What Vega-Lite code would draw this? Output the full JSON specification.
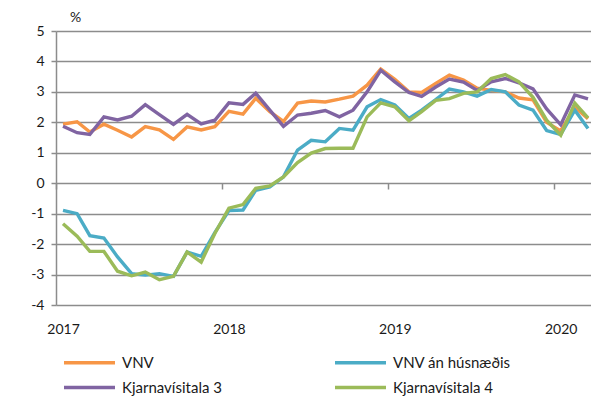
{
 "$schema": "https://vega.github.io/schema/vega-lite/v6.json",
 "width": 535,
 "height": 274,
 "autosize": {"type": "none"},
 "padding": {"left": 56, "top": 31, "right": 0, "bottom": 101},
 "background": "#ffffff",
 "config": {"font": "Lato", "view": {"stroke": null}},
 "data": {"values": [
  {"month":"2017-01-01","series":"VNV","value":1.94},{"month":"2017-02-01","series":"VNV","value":2.02},{"month":"2017-03-01","series":"VNV","value":1.68},{"month":"2017-04-01","series":"VNV","value":1.94},{"month":"2017-05-01","series":"VNV","value":1.74},{"month":"2017-06-01","series":"VNV","value":1.52},{"month":"2017-07-01","series":"VNV","value":1.86},{"month":"2017-08-01","series":"VNV","value":1.75},{"month":"2017-09-01","series":"VNV","value":1.44},{"month":"2017-10-01","series":"VNV","value":1.85},{"month":"2017-11-01","series":"VNV","value":1.75},{"month":"2017-12-01","series":"VNV","value":1.86},
  {"month":"2018-01-01","series":"VNV","value":2.36},{"month":"2018-02-01","series":"VNV","value":2.27},{"month":"2018-03-01","series":"VNV","value":2.79},{"month":"2018-04-01","series":"VNV","value":2.35},{"month":"2018-05-01","series":"VNV","value":2.03},{"month":"2018-06-01","series":"VNV","value":2.63},{"month":"2018-07-01","series":"VNV","value":2.70},{"month":"2018-08-01","series":"VNV","value":2.67},{"month":"2018-09-01","series":"VNV","value":2.76},{"month":"2018-10-01","series":"VNV","value":2.86},{"month":"2018-11-01","series":"VNV","value":3.22},{"month":"2018-12-01","series":"VNV","value":3.75},
  {"month":"2019-01-01","series":"VNV","value":3.41},{"month":"2019-02-01","series":"VNV","value":3.00},{"month":"2019-03-01","series":"VNV","value":2.98},{"month":"2019-04-01","series":"VNV","value":3.28},{"month":"2019-05-01","series":"VNV","value":3.55},{"month":"2019-06-01","series":"VNV","value":3.39},{"month":"2019-07-01","series":"VNV","value":3.12},{"month":"2019-08-01","series":"VNV","value":3.05},{"month":"2019-09-01","series":"VNV","value":3.00},{"month":"2019-10-01","series":"VNV","value":2.80},{"month":"2019-11-01","series":"VNV","value":2.74},{"month":"2019-12-01","series":"VNV","value":2.00},
  {"month":"2020-01-01","series":"VNV","value":1.72},{"month":"2020-02-01","series":"VNV","value":2.50},{"month":"2020-03-01","series":"VNV","value":2.12},

  {"month":"2017-01-01","series":"VNV án húsnæðis","value":-0.89},{"month":"2017-02-01","series":"VNV án húsnæðis","value":-1.0},{"month":"2017-03-01","series":"VNV án húsnæðis","value":-1.72},{"month":"2017-04-01","series":"VNV án húsnæðis","value":-1.80},{"month":"2017-05-01","series":"VNV án húsnæðis","value":-2.42},{"month":"2017-06-01","series":"VNV án húsnæðis","value":-2.97},{"month":"2017-07-01","series":"VNV án húsnæðis","value":-3.02},{"month":"2017-08-01","series":"VNV án húsnæðis","value":-2.97},{"month":"2017-09-01","series":"VNV án húsnæðis","value":-3.06},{"month":"2017-10-01","series":"VNV án húsnæðis","value":-2.26},{"month":"2017-11-01","series":"VNV án húsnæðis","value":-2.40},{"month":"2017-12-01","series":"VNV án húsnæðis","value":-1.62},
  {"month":"2018-01-01","series":"VNV án húsnæðis","value":-0.90},{"month":"2018-02-01","series":"VNV án húsnæðis","value":-0.88},{"month":"2018-03-01","series":"VNV án húsnæðis","value":-0.23},{"month":"2018-04-01","series":"VNV án húsnæðis","value":-0.12},{"month":"2018-05-01","series":"VNV án húsnæðis","value":0.21},{"month":"2018-06-01","series":"VNV án húsnæðis","value":1.09},{"month":"2018-07-01","series":"VNV án húsnæðis","value":1.41},{"month":"2018-08-01","series":"VNV án húsnæðis","value":1.36},{"month":"2018-09-01","series":"VNV án húsnæðis","value":1.80},{"month":"2018-10-01","series":"VNV án húsnæðis","value":1.74},{"month":"2018-11-01","series":"VNV án húsnæðis","value":2.51},{"month":"2018-12-01","series":"VNV án húsnæðis","value":2.75},
  {"month":"2019-01-01","series":"VNV án húsnæðis","value":2.57},{"month":"2019-02-01","series":"VNV án húsnæðis","value":2.13},{"month":"2019-03-01","series":"VNV án húsnæðis","value":2.40},{"month":"2019-04-01","series":"VNV án húsnæðis","value":2.75},{"month":"2019-05-01","series":"VNV án húsnæðis","value":3.09},{"month":"2019-06-01","series":"VNV án húsnæðis","value":3.00},{"month":"2019-07-01","series":"VNV án húsnæðis","value":2.86},{"month":"2019-08-01","series":"VNV án húsnæðis","value":3.08},{"month":"2019-09-01","series":"VNV án húsnæðis","value":3.00},{"month":"2019-10-01","series":"VNV án húsnæðis","value":2.57},{"month":"2019-11-01","series":"VNV án húsnæðis","value":2.40},{"month":"2019-12-01","series":"VNV án húsnæðis","value":1.73},
  {"month":"2020-01-01","series":"VNV án húsnæðis","value":1.60},{"month":"2020-02-01","series":"VNV án húsnæðis","value":2.40},{"month":"2020-03-01","series":"VNV án húsnæðis","value":1.80},

  {"month":"2017-01-01","series":"Kjarnavísitala 3","value":1.87},{"month":"2017-02-01","series":"Kjarnavísitala 3","value":1.66},{"month":"2017-03-01","series":"Kjarnavísitala 3","value":1.60},{"month":"2017-04-01","series":"Kjarnavísitala 3","value":2.18},{"month":"2017-05-01","series":"Kjarnavísitala 3","value":2.08},{"month":"2017-06-01","series":"Kjarnavísitala 3","value":2.20},{"month":"2017-07-01","series":"Kjarnavísitala 3","value":2.58},{"month":"2017-08-01","series":"Kjarnavísitala 3","value":2.25},{"month":"2017-09-01","series":"Kjarnavísitala 3","value":1.93},{"month":"2017-10-01","series":"Kjarnavísitala 3","value":2.26},{"month":"2017-11-01","series":"Kjarnavísitala 3","value":1.95},{"month":"2017-12-01","series":"Kjarnavísitala 3","value":2.07},
  {"month":"2018-01-01","series":"Kjarnavísitala 3","value":2.64},{"month":"2018-02-01","series":"Kjarnavísitala 3","value":2.59},{"month":"2018-03-01","series":"Kjarnavísitala 3","value":2.96},{"month":"2018-04-01","series":"Kjarnavísitala 3","value":2.40},{"month":"2018-05-01","series":"Kjarnavísitala 3","value":1.87},{"month":"2018-06-01","series":"Kjarnavísitala 3","value":2.24},{"month":"2018-07-01","series":"Kjarnavísitala 3","value":2.30},{"month":"2018-08-01","series":"Kjarnavísitala 3","value":2.39},{"month":"2018-09-01","series":"Kjarnavísitala 3","value":2.18},{"month":"2018-10-01","series":"Kjarnavísitala 3","value":2.40},{"month":"2018-11-01","series":"Kjarnavísitala 3","value":3.00},{"month":"2018-12-01","series":"Kjarnavísitala 3","value":3.71},
  {"month":"2019-01-01","series":"Kjarnavísitala 3","value":3.33},{"month":"2019-02-01","series":"Kjarnavísitala 3","value":2.98},{"month":"2019-03-01","series":"Kjarnavísitala 3","value":2.85},{"month":"2019-04-01","series":"Kjarnavísitala 3","value":3.16},{"month":"2019-05-01","series":"Kjarnavísitala 3","value":3.42},{"month":"2019-06-01","series":"Kjarnavísitala 3","value":3.32},{"month":"2019-07-01","series":"Kjarnavísitala 3","value":3.05},{"month":"2019-08-01","series":"Kjarnavísitala 3","value":3.33},{"month":"2019-09-01","series":"Kjarnavísitala 3","value":3.44},{"month":"2019-10-01","series":"Kjarnavísitala 3","value":3.30},{"month":"2019-11-01","series":"Kjarnavísitala 3","value":3.10},{"month":"2019-12-01","series":"Kjarnavísitala 3","value":2.44},
  {"month":"2020-01-01","series":"Kjarnavísitala 3","value":1.92},{"month":"2020-02-01","series":"Kjarnavísitala 3","value":2.90},{"month":"2020-03-01","series":"Kjarnavísitala 3","value":2.77},

  {"month":"2017-01-01","series":"Kjarnavísitala 4","value":-1.33},{"month":"2017-02-01","series":"Kjarnavísitala 4","value":-1.74},{"month":"2017-03-01","series":"Kjarnavísitala 4","value":-2.24},{"month":"2017-04-01","series":"Kjarnavísitala 4","value":-2.24},{"month":"2017-05-01","series":"Kjarnavísitala 4","value":-2.89},{"month":"2017-06-01","series":"Kjarnavísitala 4","value":-3.04},{"month":"2017-07-01","series":"Kjarnavísitala 4","value":-2.92},{"month":"2017-08-01","series":"Kjarnavísitala 4","value":-3.17},{"month":"2017-09-01","series":"Kjarnavísitala 4","value":-3.06},{"month":"2017-10-01","series":"Kjarnavísitala 4","value":-2.26},{"month":"2017-11-01","series":"Kjarnavísitala 4","value":-2.59},{"month":"2017-12-01","series":"Kjarnavísitala 4","value":-1.65},
  {"month":"2018-01-01","series":"Kjarnavísitala 4","value":-0.82},{"month":"2018-02-01","series":"Kjarnavísitala 4","value":-0.70},{"month":"2018-03-01","series":"Kjarnavísitala 4","value":-0.17},{"month":"2018-04-01","series":"Kjarnavísitala 4","value":-0.09},{"month":"2018-05-01","series":"Kjarnavísitala 4","value":0.21},{"month":"2018-06-01","series":"Kjarnavísitala 4","value":0.68},{"month":"2018-07-01","series":"Kjarnavísitala 4","value":0.99},{"month":"2018-08-01","series":"Kjarnavísitala 4","value":1.14},{"month":"2018-09-01","series":"Kjarnavísitala 4","value":1.15},{"month":"2018-10-01","series":"Kjarnavísitala 4","value":1.15},{"month":"2018-11-01","series":"Kjarnavísitala 4","value":2.18},{"month":"2018-12-01","series":"Kjarnavísitala 4","value":2.64},
  {"month":"2019-01-01","series":"Kjarnavísitala 4","value":2.51},{"month":"2019-02-01","series":"Kjarnavísitala 4","value":2.05},{"month":"2019-03-01","series":"Kjarnavísitala 4","value":2.35},{"month":"2019-04-01","series":"Kjarnavísitala 4","value":2.72},{"month":"2019-05-01","series":"Kjarnavísitala 4","value":2.78},{"month":"2019-06-01","series":"Kjarnavísitala 4","value":2.95},{"month":"2019-07-01","series":"Kjarnavísitala 4","value":3.00},{"month":"2019-08-01","series":"Kjarnavísitala 4","value":3.44},{"month":"2019-09-01","series":"Kjarnavísitala 4","value":3.57},{"month":"2019-10-01","series":"Kjarnavísitala 4","value":3.33},{"month":"2019-11-01","series":"Kjarnavísitala 4","value":2.82},{"month":"2019-12-01","series":"Kjarnavísitala 4","value":2.07},
  {"month":"2020-01-01","series":"Kjarnavísitala 4","value":1.58},{"month":"2020-02-01","series":"Kjarnavísitala 4","value":2.63},{"month":"2020-03-01","series":"Kjarnavísitala 4","value":2.15}
 ]},
 "mark": {"type": "line", "strokeWidth": 3.4, "clip": false},
 "encoding": {
  "x": {
   "field": "month", "type": "temporal",
   "scale": {"type": "utc", "domain": [{"year": 2016, "month": 12, "date": 16, "hours": 14, "utc": true}, {"year": 2020, "month": 3, "date": 7, "hours": 14, "utc": true}]},
   "axis": {
    "values": [{"year": 2017, "month": 1, "date": 1, "utc": true}, {"year": 2018, "month": 1, "date": 1, "utc": true}, {"year": 2019, "month": 1, "date": 1, "utc": true}, {"year": 2020, "month": 1, "date": 1, "utc": true}],
    "labelExpr": "utcFormat(datum.value, '%Y')",
    "title": null, "grid": false, "domain": false,
    "offset": -122, "tickOffset": -7, "labelOffset": 7,
    "tickSize": 6, "tickWidth": 1.5, "tickColor": "#8c8c8c",
    "labelPadding": 133, "labelFontSize": 14, "labelColor": "#1a1a1a", "labelFlush": false
   }
  },
  "y": {
   "field": "value", "type": "quantitative",
   "scale": {"domain": [-4, 5], "nice": false, "zero": false},
   "axis": {
    "values": [-4, -3, -2, -1, 0, 1, 2, 3, 4, 5],
    "labelExpr": "'' + datum.value",
    "grid": true, "gridColor": "#8c8c8c", "gridWidth": 1.5,
    "domain": true, "domainColor": "#8c8c8c", "domainWidth": 1.5,
    "tickSize": 5, "tickColor": "#8c8c8c", "tickWidth": 1.5,
    "labelPadding": 7, "labelFontSize": 14, "labelColor": "#1a1a1a",
    "title": "%", "titleAngle": 0, "titleX": 19, "titleY": -14, "titleAlign": "center", "titleBaseline": "middle",
    "titleFontSize": 14, "titleFontWeight": "normal", "titleColor": "#1a1a1a"
   }
  },
  "color": {
   "field": "series", "type": "nominal",
   "scale": {"domain": ["VNV", "VNV án húsnæðis", "Kjarnavísitala 3", "Kjarnavísitala 4"], "range": ["#F79646", "#4BACC6", "#8064A2", "#9BBB59"]},
   "legend": {
    "orient": "none", "legendX": 23, "legendY": 321, "columns": 2, "direction": "horizontal", "title": null,
    "symbolType": "M-3,0H3", "symbolSize": 289, "symbolStrokeWidth": 3.5,
    "labelFontSize": 15, "labelOffset": 22, "labelColor": "#1a1a1a",
    "columnPadding": 106, "rowPadding": 6, "padding": 0
   }
  }
 }
}
